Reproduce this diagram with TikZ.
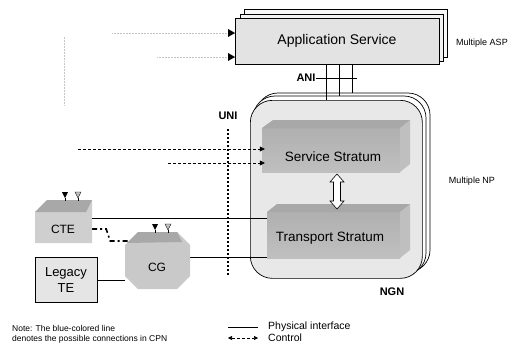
\documentclass[tikz,border=0pt]{standalone}
\usepackage{fontspec}
\setmainfont{Liberation Sans}
\usetikzlibrary{arrows.meta,calc}
\begin{document}
\begin{tikzpicture}[x=1pt,y=-1pt,
  txt/.style={inner sep=0pt, font=\fontsize{#1}{#1}\selectfont},
  btxt/.style={inner sep=0pt, font=\fontsize{#1}{#1}\selectfont\bfseries},
  phys/.style={line width=0.7pt},
  ctrl/.style={densely dashed, line width=0.6pt},
  faint/.style={gray!45, densely dotted, line width=0.5pt},
  shapebox/.style={inner sep=0pt, draw=none},
  tipA/.style={-{Triangle[length=5pt,width=5pt]}},
  tipAA/.style={{Triangle[length=4pt,width=4pt]}-{Triangle[length=4pt,width=4pt]}},
  frame/.style={draw, line width=0.7pt}
]
\useasboundingbox (0,0) rectangle (519,345);
\clip (0,0) rectangle (519,345);

% ---------- faint (blue) lines, top left ----------
\coordinate (in1) at (235,33);
\coordinate (in2) at (235,57);
\coordinate (f0) at (64,37);
\coordinate (f0b) at (64,105);
\coordinate (f1) at (112,33);
\coordinate (f2) at (157,57);
\draw[faint] (f0) -- (f0b);
\draw[faint] (f1) -- (in1);
\draw[faint] (f2) -- (in2);

% ---------- Application Service stack ----------
\draw[frame, fill=gray!6] (244,9) rectangle (447,57);
\draw[frame, fill=gray!10] (240,14) rectangle (443,61);
\node[frame, fill=gray!22, anchor=north west, minimum width=204pt, minimum height=46pt, inner sep=0pt] (app) at (235,18) {};
\node[txt=14] (apptxt) at (337,41) {Application Service};
\fill (in1) -- ++(-7,-4) -- ++(0,8) -- cycle;
\fill (in2) -- ++(-7,-4) -- ++(0,8) -- cycle;
\node[txt=9] (asp) at (482,43) {Multiple ASP};

% ---------- NGN stack ----------
\draw[frame, fill=white, rounded corners=22pt] (256,93) rectangle (430,272);
\draw[frame, fill=white, rounded corners=22pt] (253,96) rectangle (426,275);
\node[frame, fill=gray!18, rounded corners=22pt, anchor=north west, minimum width=172pt, minimum height=178pt, inner sep=0pt] (ngn) at (250,100) {};
\node[btxt=11] (ngnlbl) at (392,292) {NGN};
\node[txt=9] (mnp) at (472,181) {Multiple NP};

% ---------- ANI ----------
\node[btxt=11] (ani) at (306,78) {ANI};
\coordinate (a1t) at (326,64); \coordinate (a1b) at (326,100);
\coordinate (a2t) at (339,64); \coordinate (a2b) at (339,96);
\coordinate (a3t) at (352,64); \coordinate (a3b) at (352,93);
\coordinate (aniend) at (357,78);
\draw[line width=0.6pt] (a1t) -- (a1b);
\draw[line width=0.6pt] (a2t) -- (a2b);
\draw[line width=0.6pt] (a3t) -- (a3b);
\draw[line width=0.5pt] (ani.east) -- (aniend);

% ---------- Service Stratum slab ----------
\shade[top color=gray!62, middle color=gray!28, bottom color=gray!50] (262,128) rectangle (400,172);
\fill[gray!50] (400,128) -- (410,120) -- (410,164) -- (400,172) -- cycle;
\fill[gray!68] (262,128) -- (273,120) -- (410,120) -- (400,128) -- cycle;
\node[shapebox, minimum width=138pt, minimum height=44pt] (svc) at (331,150) {};
\node[txt=13.5] (svctxt) at (333,157) {Service Stratum};

% ---------- Transport Stratum slab ----------
\shade[top color=gray!62, middle color=gray!28, bottom color=gray!50] (267,212) rectangle (400,258);
\fill[gray!50] (400,212) -- (410,204) -- (410,250) -- (400,258) -- cycle;
\fill[gray!68] (267,212) -- (277,204) -- (410,204) -- (400,212) -- cycle;
\node[shapebox, minimum width=133pt, minimum height=46pt] (trn) at (333.5,235) {};
\node[txt=13.5] (trntxt) at (330,238) {Transport Stratum};

% ---------- double arrow between strata ----------
\draw[fill=white, line width=0.6pt] (337,174) -- (344,182) -- (340.5,182) -- (340.5,201) -- (344,201) -- (337,209) -- (330,201) -- (333.5,201) -- (333.5,182) -- (330,182) -- cycle;

% ---------- UNI ----------
\node[btxt=11] (uni) at (228,116) {UNI};
\coordinate (unib) at (228,277);
\draw[line width=1.8pt, dash pattern=on 2pt off 2pt] ([yshift=-9pt]uni.south) -- (unib);

% ---------- control arrows into Service Stratum ----------
\coordinate (d1) at (78,149);
\coordinate (d2) at (168,163);
\draw[ctrl, tipA] (d1) -- ([xshift=3pt,yshift=1pt]svc.west);
\draw[ctrl, tipA] (d2) -- ([xshift=3pt,yshift=-13pt]svc.west);

% ---------- CTE ----------
\node[shapebox, minimum width=57pt, minimum height=43pt] (cte) at (63.5,221.5) {};
% CG
\node[shapebox, minimum width=65pt, minimum height=57pt] (cg) at (157.5,260.5) {};
% Legacy TE
\node[frame, fill=gray!20, anchor=north west, minimum width=62pt, minimum height=45pt, inner sep=0pt] (leg) at (35,257) {};
\node[txt=13, align=center, font=\fontsize{13}{16}\selectfont] (legtxt) at (66,280) {Legacy\\TE};

% physical links
\draw[phys] ([yshift=3.5pt]cte.east) -- ([yshift=17pt]trn.west);
\draw[phys] ([yshift=3.5pt]cg.east) -- ([yshift=-22pt]trn.west);
\draw[phys] (leg.east) -- (leg.east -| cg.west);

% control CTE - CG
\draw[line width=1.6pt, dash pattern=on 5pt off 3pt on 2pt off 3pt]
  ([yshift=-7.5pt]cte.east) -- ++(14,0) -- ++(4,12) -- ([xshift=14pt,yshift=19.5pt]cg.west);

% CTE shape
\fill[gray!38] (35,212) -- (47,200) -- (92,200) -- (92,243) -- (35,243) -- cycle;
\fill[gray!68] (35,212) -- (47,200) -- (92,200) -- (86,212) -- cycle;
\node[txt=12] (ctetxt) at (63,229) {CTE};
\fill (62,192) -- (68,192) -- (65,198) -- cycle;
\draw[line width=0.6pt] (65,198) -- (65,201);
\filldraw[fill=gray!50, line width=0.4pt] (75,192) -- (81,192) -- (78,198) -- cycle;
\draw[line width=0.6pt] (78,198) -- (78,201);

% CG shape
\fill[gray!42] (138,232) -- (177,232) -- (190,245) -- (190,276) -- (177,289) -- (138,289) -- (125,276) -- (125,245) -- cycle;
\fill[gray!68] (127,243) -- (138,232) -- (177,232) -- (182,242) -- cycle;
\node[txt=12] (cgtxt) at (157,267) {CG};
\fill (152,224) -- (158,224) -- (155,230) -- cycle;
\draw[line width=0.6pt] (155,230) -- (155,233);
\filldraw[fill=gray!50, line width=0.4pt] (165,224) -- (171,224) -- (168,230) -- cycle;
\draw[line width=0.6pt] (168,230) -- (168,233);

% ---------- legend ----------
\coordinate (lp1) at (228,327); \coordinate (lp2) at (258,327);
\coordinate (lc1) at (228,338); \coordinate (lc2) at (258,338);
\draw[phys] (lp1) -- (lp2);
\draw[ctrl, tipAA] (lc1) -- (lc2);
\node[txt=10.5, anchor=west] (physlbl) at (268,327) {Physical interface};
\node[txt=10.5, anchor=west] (ctrllbl) at (268,338) {Control};

% ---------- note ----------
\node[txt=8.5, anchor=west] (note1) at (12,328) {Note: The blue-colored line};
\node[txt=8.5, anchor=west] (note2) at (12,339) {denotes the possible connections in CPN};
\end{tikzpicture}
\end{document}
